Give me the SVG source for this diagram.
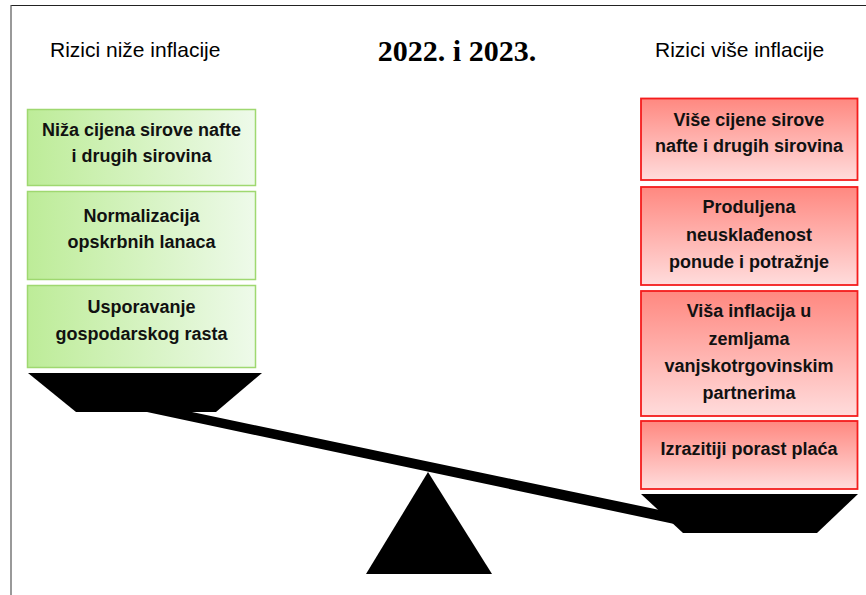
<svg xmlns="http://www.w3.org/2000/svg" width="866" height="595" viewBox="0 0 866 595">
<defs>
<linearGradient id="gGreen" x1="0" y1="0" x2="1" y2="0">
<stop offset="0" stop-color="#bdec98"/>
<stop offset="1" stop-color="#eefaea"/>
</linearGradient>
<linearGradient id="gRed" x1="0" y1="0" x2="0" y2="1">
<stop offset="0" stop-color="#ff8880"/>
<stop offset="1" stop-color="#ffdcdc"/>
</linearGradient>
<style>
.hdr{font-family:"Liberation Sans","DejaVu Sans",sans-serif;font-size:21px;fill:#000}
.ttl{font-family:"Liberation Serif","DejaVu Serif",serif;font-size:30px;font-weight:bold;fill:#000;text-anchor:middle}
.bx{font-family:"Liberation Sans","DejaVu Sans",sans-serif;font-size:18px;font-weight:bold;fill:#111;text-anchor:middle}
.green{fill:url(#gGreen);stroke:#9fd870;stroke-width:1.5}
.red{fill:url(#gRed);stroke:#f41c1c;stroke-width:1.8}
.blk{fill:#000}
</style>
</defs>
<rect width="866" height="595" fill="#fff"/>
<line x1="11" y1="5.5" x2="866" y2="5.5" stroke="#222" stroke-width="1.2"/>
<line x1="11" y1="5" x2="11" y2="595" stroke="#555" stroke-width="1.2"/>

<text class="hdr" x="50" y="57">Rizici niže inflacije</text>
<text class="ttl" x="457" y="61">2022. i 2023.</text>
<text class="hdr" x="655" y="57">Rizici više inflacije</text>

<g id="n-left1">
<rect class="green" x="27.5" y="109.5" width="228" height="76"/>
<text class="bx" x="141.5" y="136">Niža cijena sirove nafte</text>
<text class="bx" x="141.5" y="162">i drugih sirovina</text>
</g>
<g id="n-left2">
<rect class="green" x="27.5" y="191.5" width="228" height="88"/>
<text class="bx" x="141.5" y="222">Normalizacija</text>
<text class="bx" x="141.5" y="248">opskrbnih lanaca</text>
</g>
<g id="n-left3">
<rect class="green" x="27.5" y="285.5" width="228" height="82"/>
<text class="bx" x="141.5" y="313">Usporavanje</text>
<text class="bx" x="141.5" y="340">gospodarskog rasta</text>
</g>

<g id="n-right1">
<rect class="red" x="641" y="98.5" width="216.5" height="81.5"/>
<text class="bx" x="749" y="126">Više cijene sirove</text>
<text class="bx" x="749" y="152">nafte i drugih sirovina</text>
</g>
<g id="n-right2">
<rect class="red" x="641" y="187" width="216.5" height="98"/>
<text class="bx" x="749" y="213">Produljena</text>
<text class="bx" x="749" y="241">neusklađenost</text>
<text class="bx" x="749" y="268">ponude i potražnje</text>
</g>
<g id="n-right3">
<rect class="red" x="641" y="291" width="216.5" height="125"/>
<text class="bx" x="749" y="317">Viša inflacija u</text>
<text class="bx" x="749" y="345">zemljama</text>
<text class="bx" x="749" y="372">vanjskotrgovinskim</text>
<text class="bx" x="749" y="399">partnerima</text>
</g>
<g id="n-right4">
<rect class="red" x="641" y="421" width="216.5" height="68"/>
<text class="bx" x="749" y="455">Izrazitiji porast plaća</text>
</g>

<g id="scale">
<polygon class="blk" points="28,373 262,373 216,412 76,412"/>
<polygon class="blk" points="641,494 858,494 817,533 683,533"/>
<polygon class="blk" points="147,412 192,412 705,519.5 705,530.5"/>
<polygon class="blk" points="428,472 492,574 366,574"/>
</g>
</svg>
